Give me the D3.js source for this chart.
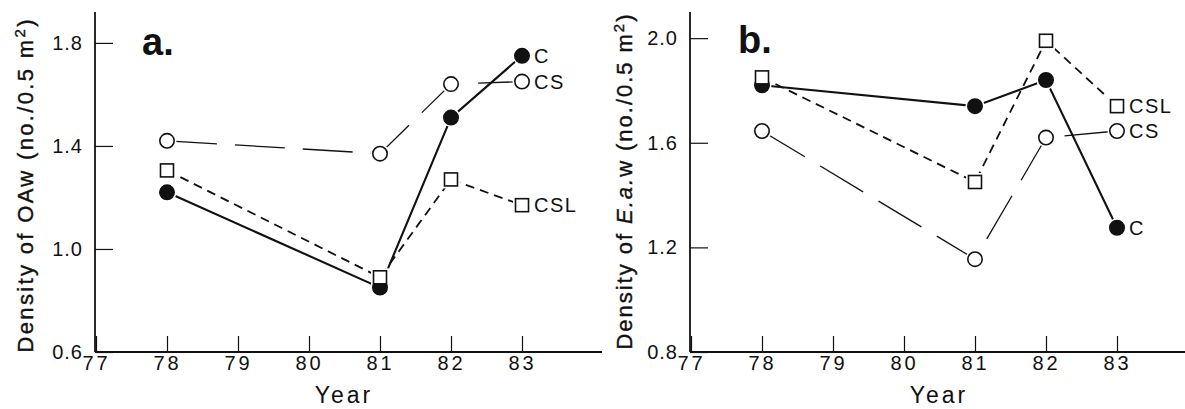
<!DOCTYPE html>
<html lang="en">
<head>
<meta charset="UTF-8">
<title>Density by year</title>
<style>
    body { margin: 0; background: #fff; }
    svg { display: block; font-family: "Liberation Sans", Arial, sans-serif; }
</style>
</head>
<body>
<svg id="chart" width="1185" height="409"></svg>
<script src="https://d3js.org/d3.v7.min.js"></script>
<script>
    // data
    const years = [78, 81, 82, 83];
    const yearTicks = [77, 78, 79, 80, 81, 82, 83];
    const seriesNames = ["C", "CS", "CSL"];

    // panel a: OAw
    const oawC = [1.22, 0.85, 1.51, 1.75];
    const oawCS = [1.42, 1.37, 1.64, 1.65];
    const oawCSL = [1.305, 0.89, 1.27, 1.17];
    const oawTicks = [0.6, 1.0, 1.4, 1.8];

    // panel b: E.a.w
    const eawC = [1.82, 1.74, 1.84, 1.275];
    const eawCS = [1.645, 1.155, 1.62, 1.645];
    const eawCSL = [1.85, 1.45, 1.99, 1.74];
    const eawTicks = [0.8, 1.2, 1.6, 2.0];

    const svg = d3.select('#chart');
    const ink = '#111';

    // line style per series
    const styles = {
        C: { dash: null, width: 2.1 },
        CS: { dash: '50,18', width: 1.3 },
        CSL: { dash: '9,6', width: 1.8 }
    };

    function panel(opt) {
        const g = svg.append('g').attr('transform', `translate(${opt.left},0)`);
        const x = d3.scaleLinear().domain([77, 84]).range([1, 498]);
        const y = d3.scaleLinear().domain(opt.yDomain).range([352, 12]);

        // axis lines
        g.append('line').attr('x1', 0).attr('x2', 0).attr('y1', 12).attr('y2', 352)
            .attr('stroke', ink).attr('stroke-width', 1.8);
        g.append('line').attr('x1', 0).attr('x2', 507).attr('y1', 352).attr('y2', 352)
            .attr('stroke', ink).attr('stroke-width', 1.8);

        const yAxis = g.append('g')
            .call(d3.axisLeft(y).tickValues(opt.yTicks).tickFormat(d3.format('.1f'))
                .tickSizeInner(-18).tickSizeOuter(0).tickPadding(12));
        yAxis.select('.domain').remove();
        yAxis.selectAll('line').attr('stroke', ink).attr('stroke-width', 1.2);
        yAxis.selectAll('text').attr('font-size', 20).attr('fill', ink)
            .attr('font-family', '"Liberation Sans", Arial, sans-serif').attr('letter-spacing', 1);

        const xAxis = g.append('g').attr('transform', 'translate(0,352)')
            .call(d3.axisBottom(x).tickValues(yearTicks).tickFormat(d3.format('d'))
                .tickSizeInner(-16).tickSizeOuter(0).tickPadding(4));
        xAxis.select('.domain').remove();
        xAxis.selectAll('line').attr('stroke', ink).attr('stroke-width', 1.2);
        xAxis.selectAll('text').attr('font-size', 20).attr('fill', ink)
            .attr('font-family', '"Liberation Sans", Arial, sans-serif').attr('letter-spacing', 3);

        // y label (rotated)
        const yl = g.append('text')
            .attr('transform', `translate(${opt.yLabelX},${opt.yLabelY}) rotate(-90)`)
            .attr('text-anchor', 'middle').attr('font-size', 22).attr('fill', ink)
            .attr('stroke', ink).attr('stroke-width', 0.4)
            .attr('textLength', opt.yLabelLen).attr('lengthAdjust', 'spacing');
        opt.yLabelParts.forEach(p => {
            const t = yl.append('tspan').text(p.t);
            if (p.italic) t.attr('font-style', 'italic');
            if (p.dy) t.attr('dy', p.dy);
            if (p.size) t.attr('font-size', p.size);
        });

        // x label
        g.append('text').attr('x', 249).attr('y', 403).attr('text-anchor', 'middle')
            .attr('font-size', 23).attr('letter-spacing', 3).attr('fill', ink).text('Year');

        // panel tag
        g.append('text').attr('x', opt.tagX).attr('y', opt.tagY)
            .attr('font-size', 38).attr('font-weight', 'bold').attr('fill', ink).text(opt.tag);

        const line = d3.line().x((d, i) => x(years[i])).y(d => y(d));
        seriesNames.forEach(name => {
            g.append('path').attr('d', line(opt.values[name]))
                .attr('fill', 'none').attr('stroke', ink)
                .attr('stroke-width', styles[name].width)
                .attr('stroke-dasharray', styles[name].dash);
        });

        // white halo round the markers so lines stop short of them
        const order = ['CS', 'C', 'CSL'];
        order.forEach(name => {
            opt.values[name].forEach((v, i) => {
                if (name === 'CSL') {
                    g.append('rect').attr('x', x(years[i]) - 7).attr('y', y(v) - 7)
                        .attr('width', 14).attr('height', 14)
                        .attr('fill', '#fff').attr('stroke', '#fff').attr('stroke-width', 4);
                } else {
                    g.append('circle').attr('cx', x(years[i])).attr('cy', y(v)).attr('r', 7.5)
                        .attr('fill', '#fff').attr('stroke', '#fff').attr('stroke-width', 4);
                }
            });
        });
        order.forEach(name => {
            opt.values[name].forEach((v, i) => {
                if (name === 'CSL') {
                    g.append('rect').attr('x', x(years[i]) - 6.5).attr('y', y(v) - 6.5)
                        .attr('width', 13).attr('height', 13)
                        .attr('fill', '#fff').attr('stroke', ink).attr('stroke-width', 1.6);
                } else {
                    g.append('circle').attr('cx', x(years[i])).attr('cy', y(v)).attr('r', 7.2)
                        .attr('fill', name === 'C' ? ink : '#fff')
                        .attr('stroke', ink).attr('stroke-width', 1.6);
                }
            });
            // end label
            const last = opt.values[name][opt.values[name].length - 1];
            g.append('text').attr('x', x(83) + 12).attr('y', y(last)).attr('dy', '0.36em')
                .attr('font-size', 20).attr('letter-spacing', 1.5).attr('fill', ink).text(name);
        });
    }

    panel({
        left: 95, yDomain: [0.6, 1.92], yTicks: oawTicks,
        values: { C: oawC, CS: oawCS, CSL: oawCSL },
        tag: 'a.', tagX: 47, tagY: 55,
        yLabelX: -62, yLabelY: 186, yLabelLen: 333,
        yLabelParts: [{ t: 'Density of OAw (no./0.5 m' }, { t: '2', dy: -8, size: 15 }, { t: ')', dy: 8 }]
    });

    panel({
        left: 690, yDomain: [0.8, 2.1], yTicks: eawTicks,
        values: { C: eawC, CS: eawCS, CSL: eawCSL },
        tag: 'b.', tagX: 48, tagY: 53,
        yLabelX: -58, yLabelY: 182, yLabelLen: 335,
        yLabelParts: [{ t: 'Density of ' }, { t: 'E.a.', italic: true }, { t: 'w (no./0.5 m' }, { t: '2', dy: -8, size: 15 }, { t: ')', dy: 8 }]
    });
</script>
</body>
</html>
